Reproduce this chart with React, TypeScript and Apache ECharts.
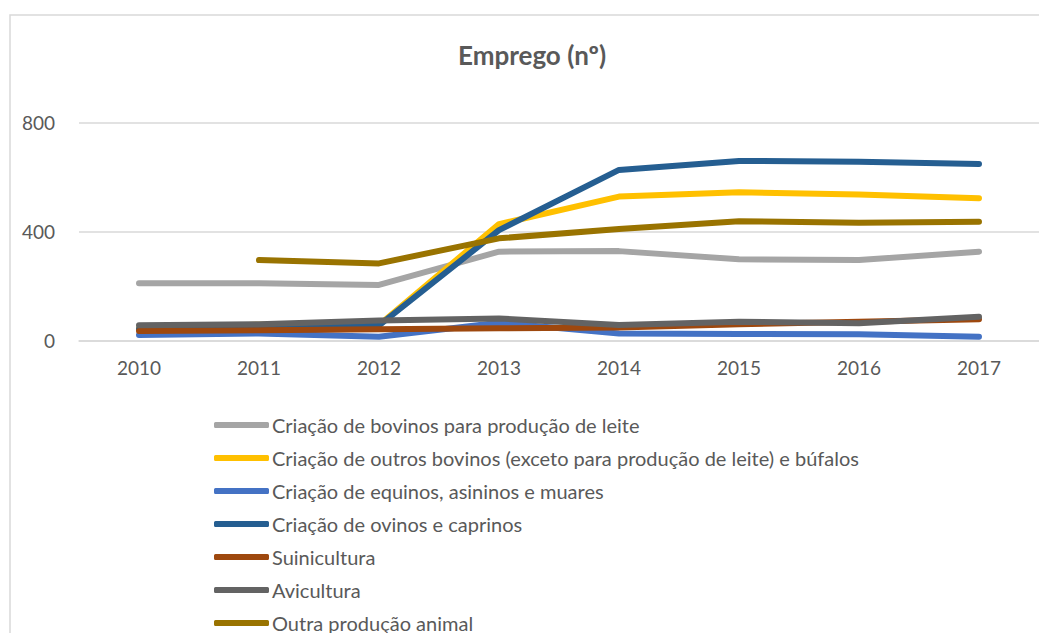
import React, { useEffect, useRef } from "react";
import * as echarts from "echarts";

const years = ["2010", "2011", "2012", "2013", "2014", "2015", "2016", "2017"];

const bovinosLeite = [210, 210, 204, 326, 328, 298, 295, 326];
const outrosBovinos = [45, 58, 57, 427, 528, 544, 536, 522];
const equinos = [20, 26, 14, 65, 26, 24, 23, 14];
const ovinos = [42, 48, 55, 405, 626, 659, 656, 648];
const suinicultura = [35, 38, 41, 45, 48, 60, 69, 78];
const avicultura = [56, 60, 73, 81, 57, 69, 63, 87];
const outraProducao = [null, 295, 283, 375, 409, 438, 432, 436];

const seriesNames = [
  "Criação de bovinos para produção de leite",
  "Criação de outros bovinos (exceto para produção de leite) e búfalos",
  "Criação de equinos, asininos e muares",
  "Criação de ovinos e caprinos",
  "Suinicultura",
  "Avicultura",
  "Outra produção animal",
];
const seriesColors = ["#A5A5A5", "#FFC000", "#4472C4", "#255E91", "#9E480E", "#636363", "#997300"];
const seriesData = [bovinosLeite, outrosBovinos, equinos, ovinos, suinicultura, avicultura, outraProducao];

const yTicks = { min: 0, max: 800, interval: 400 };
const titleText = "Emprego (nº)";

const FONT = "Lato, 'Open Sans', sans-serif";

export default function App() {
  const ref = useRef<HTMLDivElement>(null);
  useEffect(() => {
    if (!ref.current) return;
    const chart = echarts.init(ref.current, undefined, { renderer: "svg" });
    chart.setOption({
      animation: false,
      textStyle: { fontFamily: FONT },
      graphic: [
        {
          type: "rect",
          shape: { x: 10, y: 15, width: 1200, height: 800 },
          style: { fill: "none", stroke: "#D9D9D9", lineWidth: 1.5 },
          silent: true,
        },
        {
          type: "text",
          x: 532,
          y: 55,
          style: {
            text: titleText,
            fill: "#595959",
            font: `bold 26px ${FONT}`,
            textAlign: "center",
            textVerticalAlign: "middle",
          },
        },
      ],
      grid: { left: 79, right: -14, top: 122.5, bottom: 292.5, containLabel: false },
      xAxis: {
        type: "category",
        data: years,
        boundaryGap: true,
        axisTick: { show: false },
        axisLine: { lineStyle: { color: "#D9D9D9", width: 1.5 } },
        axisLabel: { color: "#595959", fontSize: 19, margin: 17, fontFamily: FONT },
      },
      yAxis: {
        type: "value",
        min: yTicks.min,
        max: yTicks.max,
        interval: yTicks.interval,
        axisLine: { show: false },
        axisTick: { show: false },
        splitLine: { lineStyle: { color: "#D9D9D9", width: 1.5 } },
        axisLabel: { color: "#595959", fontSize: 19, margin: 24, fontFamily: FONT },
      },
      legend: {
        orient: "vertical",
        left: 214,
        top: 415,
        height: 260,
        padding: 0,
        itemWidth: 55,
        itemHeight: 6,
        itemGap: 13,
        icon: "roundRect",
        textStyle: { color: "#595959", fontSize: 20, lineHeight: 20, fontFamily: FONT, padding: [0, 0, 0, -2] },
        data: seriesNames,
      },
      series: seriesNames.map((name, i) => ({
        name,
        type: "line",
        data: seriesData[i],
        symbol: "none",
        color: seriesColors[i],
        lineStyle: { width: 6, color: seriesColors[i], cap: "round", join: "round" },
        connectNulls: false,
      })),
    });
    return () => chart.dispose();
  }, []);
  return (
    <div
      ref={ref}
      style={{ position: "fixed", left: 0, top: 0, width: 1039, height: 633, background: "#fff" }}
    />
  );
}
